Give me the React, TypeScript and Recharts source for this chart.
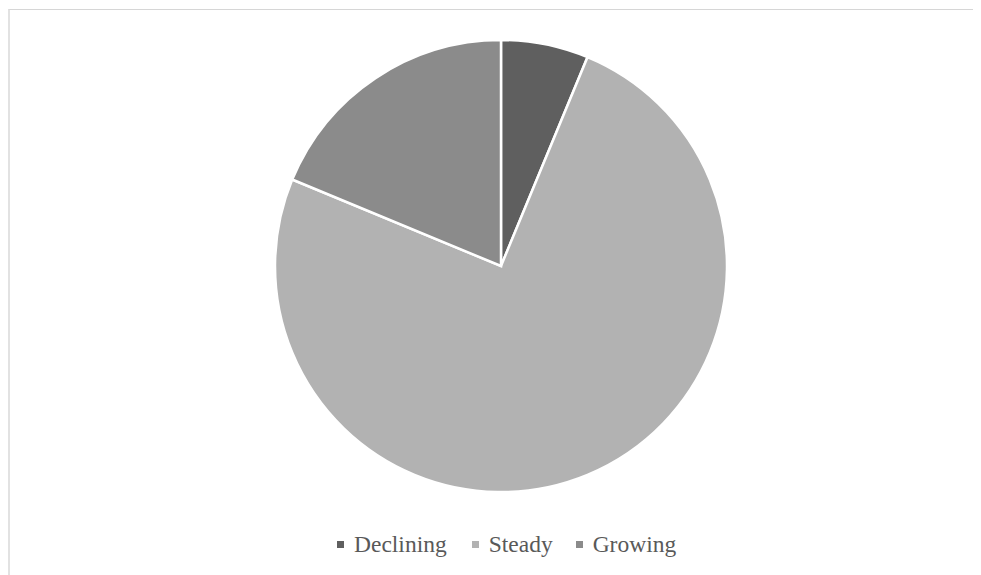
import React from "react";
import { PieChart, Pie, Cell, Legend } from "recharts";

const categories = ["Declining", "Steady", "Growing"];
const counts = [1, 12, 3];
const colors = ["#5f5f5f", "#b2b2b2", "#8b8b8b"];

const data = categories.map((name, i) => ({ name, value: counts[i] }));

const FONT = '"Liberation Serif", "Times New Roman", Times, serif';
const itemGaps = [0, 25, 23];

// Legend kept in category order (not sorted by value)
function LegendContent() {
  return (
    <div
      style={{
        display: "flex",
        justifyContent: "flex-start",
        alignItems: "center",
        fontFamily: FONT,
        fontSize: 23.5,
        color: "#595959",
        paddingLeft: 329,
      }}
    >
      {categories.map((name, i) => (
        <div
          key={name}
          style={{
            display: "flex",
            alignItems: "center",
            marginLeft: itemGaps[i],
          }}
        >
          <span
            style={{
              display: "inline-block",
              width: 7,
              height: 7,
              background: colors[i],
              marginRight: 10,
            }}
          />
          <span>{name}</span>
        </div>
      ))}
    </div>
  );
}

export default function App() {
  return (
    <div style={{ position: "relative", width: 973, height: 567 }}>
      <div
        style={{
          position: "absolute",
          left: 0,
          top: 1,
          width: 973,
          height: 566,
          borderTop: "1px solid #d6d6d6",
          borderLeft: "2px solid #e2e2e2",
          boxSizing: "border-box",
        }}
      />
      <div style={{ position: "absolute", left: 0, top: 0 }}>
        <PieChart width={973} height={567}>
          <Pie
            data={data}
            dataKey="value"
            nameKey="name"
            cx={488}
            cy={253}
            outerRadius={226}
            innerRadius={0}
            startAngle={90}
            endAngle={-270}
            stroke="#ffffff"
            strokeWidth={2.5}
            isAnimationActive={false}
          >
            {data.map((d, i) => (
              <Cell key={d.name} fill={colors[i]} />
            ))}
          </Pie>
          <Legend
            content={<LegendContent />}
            wrapperStyle={{ top: 523, left: 0, width: 973 }}
          />
        </PieChart>
      </div>
    </div>
  );
}
